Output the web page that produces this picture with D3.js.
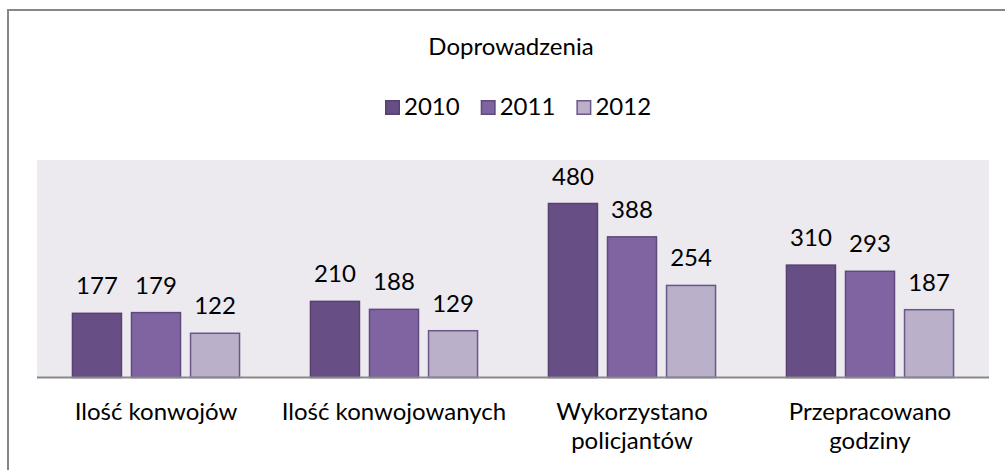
<!DOCTYPE html>
<html>
<head>
<meta charset="utf-8">
<script src="https://cdn.jsdelivr.net/npm/d3@7"></script>
<style>
    body { margin: 0; background: #ffffff; }
    svg { display: block; }
    text { font-family: Lato, "Open Sans", sans-serif; fill: #000000; }
</style>
</head>
<body>
<div id="chart"></div>
<script>
// chart data
var title = "Doprowadzenia";
var categories = ["Ilość konwojów", "Ilość konwojowanych", "Wykorzystano policjantów", "Przepracowano godziny"];
var categoryLines = [["Ilość konwojów"], ["Ilość konwojowanych"], ["Wykorzystano", "policjantów"], ["Przepracowano", "godziny"]];
var years = ["2010", "2011", "2012"];
var values2010 = [177, 210, 480, 310];
var values2011 = [179, 188, 388, 293];
var values2012 = [122, 129, 254, 187];
var yMax = 600;

var width = 1005, height = 470;
var plot = { left: 37, right: 989, top: 160, bottom: 377.5 };
var fills = ["#674f86", "#8064a2", "#bab0ca"];
var strokes = ["#57426f", "#5e4a7c", "#6b5789"];
var fontSize = 24;

var series = [values2010, values2011, values2012];

var svg = d3.select("#chart").append("svg")
    .attr("width", width)
    .attr("height", height);

// outer chart frame (extends past the window on right / bottom)
svg.append("rect")
    .attr("x", 8).attr("y", 10)
    .attr("width", 1010).attr("height", 480)
    .attr("fill", "none")
    .attr("stroke", "#878787")
    .attr("stroke-width", 2);

// plot background
svg.append("rect")
    .attr("x", plot.left).attr("y", plot.top)
    .attr("width", plot.right - plot.left)
    .attr("height", plot.bottom - plot.top)
    .attr("fill", "#ece9ef");

var x0 = d3.scaleBand()
    .domain(categories)
    .range([plot.left, plot.right])
    .paddingInner(0.298)
    .paddingOuter(0.149);

var x1 = d3.scaleBand()
    .domain(years)
    .range([0, x0.bandwidth()])
    .paddingInner(0.17)
    .paddingOuter(0);

var y = d3.scaleLinear()
    .domain([0, yMax])
    .range([plot.bottom, plot.top]);

// bars
var groups = svg.selectAll("g.cat")
    .data(categories)
    .enter().append("g")
    .attr("class", "cat")
    .attr("transform", d => "translate(" + x0(d) + ",0)");

groups.each(function(cat, ci) {
    var g = d3.select(this);
    years.forEach(function(yr, si) {
        var v = series[si][ci];
        g.append("rect")
            .attr("x", x1(yr))
            .attr("y", y(v))
            .attr("width", x1.bandwidth())
            .attr("height", y(0) - y(v))
            .attr("fill", fills[si])
            .attr("stroke", strokes[si])
            .attr("stroke-width", 1.5);

        g.append("text")
            .attr("x", x1(yr) + x1.bandwidth() / 2)
            .attr("y", y(v) - 19)
            .attr("text-anchor", "middle")
            .style("font-size", fontSize + "px")
            .text(v);
    });
});

// category axis line
svg.append("line")
    .attr("x1", plot.left).attr("x2", plot.right)
    .attr("y1", plot.bottom).attr("y2", plot.bottom)
    .attr("stroke", "#898989")
    .attr("stroke-width", 2);

// category labels
categories.forEach(function(cat, ci) {
    var t = svg.append("text")
        .attr("x", x0(cat) + x0.bandwidth() / 2)
        .attr("y", 420)
        .attr("text-anchor", "middle")
        .style("font-size", fontSize + "px");
    categoryLines[ci].forEach(function(line, li) {
        t.append("tspan")
            .attr("x", x0(cat) + x0.bandwidth() / 2)
            .attr("y", 420 + li * 29)
            .text(line);
    });
});

// title
svg.append("text")
    .attr("x", 511)
    .attr("y", 55)
    .attr("text-anchor", "middle")
    .style("font-size", fontSize + "px")
    .text(title);

// legend
var legend = svg.append("g").attr("transform", "translate(385,0)");
var lx = 0;
years.forEach(function(yr, si) {
    legend.append("rect")
        .attr("x", lx + 0.75).attr("y", 100.75)
        .attr("width", 13.5).attr("height", 13.5)
        .attr("fill", fills[si])
        .attr("stroke", strokes[si])
        .attr("stroke-width", 1.5);
    var t = legend.append("text")
        .attr("x", lx + 19)
        .attr("y", 115)
        .style("font-size", fontSize + "px")
        .text(yr);
    lx += 19 + t.node().getComputedTextLength() + 21;
});
</script>
</body>
</html>
